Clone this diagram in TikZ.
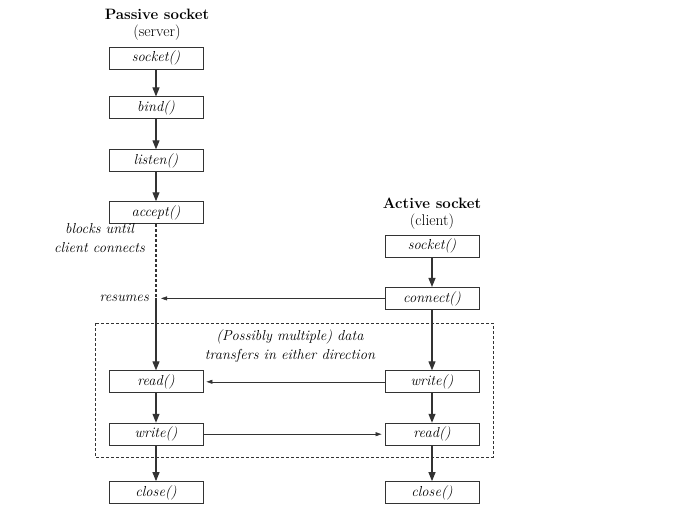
\documentclass[tikz,border=0pt]{standalone}
\usepackage{tikz}
\usetikzlibrary{arrows.meta,positioning}

\begin{document}
\begin{tikzpicture}[x=1pt,y=1pt,
    block/.style={draw=black!80, line width=0.9pt, rectangle, minimum width=94pt, minimum height=22pt, inner sep=0pt, font=\fontsize{14.5}{16}\selectfont\itshape},
    title/.style={font=\fontsize{15}{17}\selectfont\bfseries, inner sep=1pt},
    sub/.style={font=\fontsize{15.5}{17}\selectfont, inner sep=1pt},
    note/.style={font=\fontsize{14.5}{19}\selectfont\itshape, align=center, inner sep=1pt},
    flow/.style={line width=1.1pt, draw=black!80, -{Triangle[length=9pt,width=7pt]}},
    msg/.style={line width=0.5pt, draw=black!80, -{Triangle[length=6pt,width=4pt]}, shorten >=3pt}]
    \useasboundingbox (0,0) rectangle (685,-508);

    % server side
    \node [title] (passive) at (157,-14) {Passive socket};
    \node [sub] (server) at (157,-33) {(server)};
    \node [block] (ssocket) at (156,-58) {socket()};
    \node [block, below = 27pt of ssocket] (bind) {bind()};
    \node [block, below = 30pt of bind] (listen) {listen()};
    \node [block, below = 29pt of listen] (accept) {accept()};

    % client side
    \node [title] (active) at (432,-203) {Active socket};
    \node [sub] (client) at (432,-222) {(client)};
    \node [block] (csocket) at (432,-246) {socket()};
    \node [block, below = 29.5pt of csocket] (connect) {connect()};
    \node [block, below = 60.5pt of connect] (cwrite) {write()};
    \node [block, below = 29.5pt of cwrite] (cread) {read()};
    \node [block, below = 35.5pt of cread] (cclose) {close()};

    \node [block] (sread) at (accept |- cwrite) {read()};
    \node [block, below = 29.5pt of sread] (swrite) {write()};
    \node [block, below = 35.5pt of swrite] (sclose) {close()};

    \coordinate (resume) at (accept |- connect);

    % data transfer region
    \draw [dash pattern=on 3pt off 2pt, line width=0.9pt, black!80] (95,-323) rectangle (493,-457);
    \node [note, align=center] (transfer) at (290,-346) {(Possibly multiple) data\\transfers in either direction};

    \node [note, anchor=north east] (blocks) at (146,-222) {blocks until\\client connects};
    \node [note, left = 6pt of resume] (resumes) {resumes};

    \draw [flow] (ssocket) -- (bind);
    \draw [flow] (bind) -- (listen);
    \draw [flow] (listen) -- (accept);
    \draw [dash pattern=on 3pt off 2pt, line width=1.1pt, black!80] (accept) -- (resume);
    \draw [flow] (resume) -- (sread);
    \draw [flow] (sread) -- (swrite);
    \draw [flow] (swrite) -- (sclose);

    \draw [flow] (csocket) -- (connect);
    \draw [flow] (connect) -- (cwrite);
    \draw [flow] (cwrite) -- (cread);
    \draw [flow] (cread) -- (cclose);

    \draw [msg, shorten >=5pt] (connect) -- (resume);
    \draw [msg] (cwrite) -- (sread);
    \draw [msg] (swrite) -- (cread);
\end{tikzpicture}
\end{document}
